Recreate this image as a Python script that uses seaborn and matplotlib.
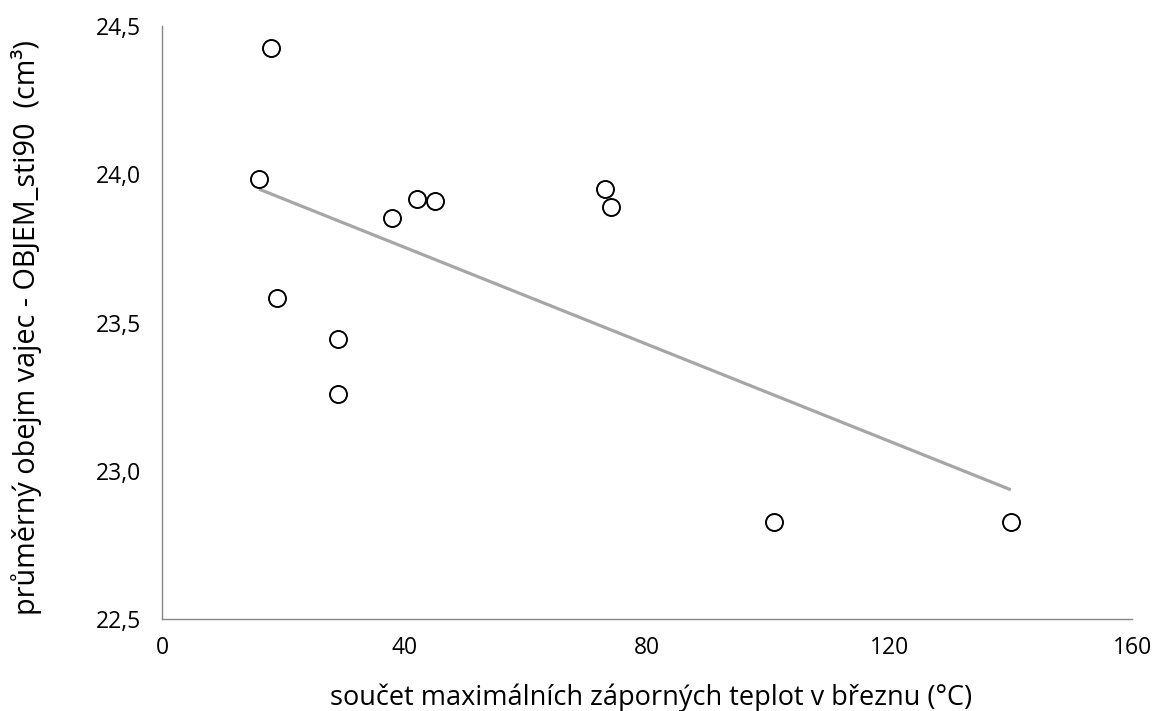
import matplotlib
matplotlib.use("Agg")
import matplotlib.pyplot as plt
from matplotlib.ticker import FuncFormatter
import seaborn as sns
import pandas as pd

# Data
teploty = [18, 16, 19, 29, 29, 38, 42, 45, 73, 74, 101, 140]
objem = [24.425, 23.984, 23.583, 23.444, 23.259, 23.853, 23.915, 23.911, 23.950, 23.888, 22.827, 22.827]
x_ticks = [0, 40, 80, 120, 160]
y_ticks = [22.5, 23.0, 23.5, 24.0, 24.5]
x_title = "součet maximálních záporných teplot v březnu (°C)"
y_title = "průměrný obejm vajec - OBJEM_sti90  (cm³)"

df = pd.DataFrame({"x": teploty, "y": objem})

sns.set_theme(style="white")
plt.rcParams["font.family"] = ["Open Sans", "DejaVu Sans"]

fig = plt.figure(figsize=(11.54, 7.11), dpi=100)
ax = fig.add_axes([0.1404, 0.1294, 0.9810 - 0.1404, 0.9634 - 0.1294])

sns.regplot(data=df, x="x", y="y", ax=ax, ci=None, truncate=True, scatter=False,
            line_kws={"color": "#A6A6A6", "linewidth": 2.3, "solid_capstyle": "butt"})
sns.scatterplot(data=df, x="x", y="y", ax=ax, s=150, facecolor="white",
                edgecolor="black", linewidth=1.4, zorder=3)

ax.set_xlim(0, 160)
ax.set_ylim(22.5, 24.5)
ax.set_xticks(x_ticks)
ax.set_yticks(y_ticks)
ax.yaxis.set_major_formatter(FuncFormatter(lambda v, p: f"{v:.1f}".replace(".", ",")))
ax.xaxis.set_major_formatter(FuncFormatter(lambda v, p: f"{v:.0f}"))

for side in ["top", "right"]:
    ax.spines[side].set_visible(False)
for side in ["left", "bottom"]:
    ax.spines[side].set_color("#868686")
    ax.spines[side].set_linewidth(1.0)

ax.tick_params(axis="both", which="major", direction="out", length=5, width=1.0,
               color="#868686", labelsize=16.5, labelcolor="black")
ax.tick_params(axis="x", pad=7)
ax.tick_params(axis="y", pad=10)

ax.set_xlabel(x_title, fontsize=19.5, color="black", va="baseline")
ax.set_ylabel(y_title, fontsize=20.7, color="black")
ax.xaxis.set_label_coords(0.504, -0.145)
ax.yaxis.set_label_coords(-0.1235, 0.492)

fig.savefig("out.png", dpi=100, facecolor="white")
